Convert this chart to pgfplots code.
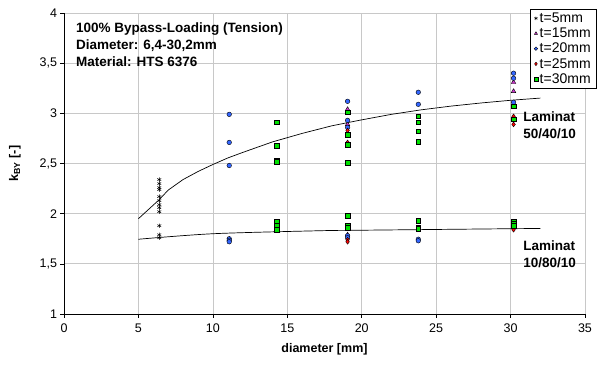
\documentclass[border=0pt]{standalone}
\usepackage{pgfplots}
\pgfplotsset{compat=1.18}
\usepackage{fontspec}
\setmainfont{Liberation Sans}
\definecolor{cblue}{HTML}{3366FF}
\definecolor{cmag}{HTML}{CC33CC}
\definecolor{cred}{HTML}{FF0000}
\definecolor{cgreen}{HTML}{00E000}
\definecolor{gridgray}{HTML}{C8C8C8}
\begin{document}
\begin{tikzpicture}
\begin{axis}[
  scale only axis,
  width=521bp, height=301bp,
  xmin=0, xmax=35, ymin=1, ymax=4,
  xtick={0,5,...,35}, ytick={1,1.5,...,4},
  axis lines*=left,
  grid=major,
  major grid style={gridgray, line width=0.7pt},
  axis line style={black, line width=0.8pt},
  tick style={black, line width=0.6pt},
  tick align=outside,
  major tick length=3.5bp,
  /pgf/number format/use comma,
  /pgf/number format/assume math mode=true,
  ticklabel style={font=\fontsize{12.5bp}{14bp}\selectfont},
  yticklabel style={/pgf/number format/fixed},
  xticklabel style={yshift=-3bp},
  xlabel={\textbf{diameter [mm]}},
  ylabel={\textbf{k\textsubscript{BY} [-]}},
  label style={font=\fontsize{12.5bp}{14bp}\selectfont},
  xlabel style={yshift=-4bp},
  ylabel style={yshift=12bp},
  clip=false,
  legend style={at={(1,1)}, anchor=north east, xshift=11.5bp, yshift=4bp,
    font=\fontsize{14bp}{15.5bp}\selectfont, draw=black, line width=0.6pt,
    inner xsep=3.5bp, inner ysep=1.5bp, row sep=0bp, cells={anchor=west},
    /tikz/every even column/.append style={column sep=6bp}},
  legend cell align=left,
  legend image code/.code={\draw[mark repeat=2,mark phase=2,#1,mark size=1.8bp] plot coordinates {(0cm,0cm) (0.1cm,0cm) (0.2cm,0cm)};},
]
% t=5mm
\addplot[only marks, mark=asterisk, mark size=2.2bp, draw=black, line width=0.5pt] coordinates {
(6.4,2.34) (6.4,2.30) (6.4,2.26) (6.4,2.24) (6.4,2.17) (6.4,2.13) (6.4,2.09) (6.4,2.06) (6.4,2.02) (6.4,1.88) (6.4,1.79) (6.4,1.76)};
\addlegendentry{t=5mm}
% t=15mm
\addplot[only marks, mark=triangle*, mark size=2.6bp, draw=black, fill=cmag, line width=0.4pt] coordinates {
(19.05,3.04) (19.05,2.89) (19.05,1.79) (30.2,3.31) (30.2,3.22)};
\addlegendentry{t=15mm}
% t=20mm
\addplot[only marks, mark=*, mark size=2.3bp, draw=black, fill=cblue, line width=0.4pt] coordinates {
(11.1,2.99) (11.1,2.71) (11.1,2.48) (11.1,1.75) (11.1,1.735) (11.1,1.72)
(19.05,3.12) (19.05,2.93) (19.05,2.86) (19.05,1.78) (19.05,1.76)
(23.8,3.21) (23.8,3.09) (23.8,1.745) (23.8,1.73)
(30.2,3.40) (30.2,3.35) (30.2,3.11)};
\addlegendentry{t=20mm}
% t=25mm
\addplot[only marks, mark=diamond*, mark size=2.4bp, draw=black, fill=cred, line width=0.4pt] coordinates {
(19.05,2.83) (19.05,2.71) (19.05,1.74) (19.05,1.72)
(30.2,2.97) (30.2,2.89) (30.2,1.84)};
\addlegendentry{t=25mm}
% t=30mm
\addplot[only marks, mark=square*, mark size=2.3bp, draw=black, fill=cgreen, line width=0.4pt] coordinates {
(14.3,2.91) (14.3,2.68) (14.3,2.53) (14.3,2.52) (14.3,1.92) (14.3,1.88) (14.3,1.84)
(19.05,3.01) (19.05,2.79) (19.05,2.685) (19.05,2.51) (19.05,1.98) (19.05,1.88) (19.05,1.86)
(23.8,2.97) (23.8,2.91) (23.8,2.82) (23.8,2.72) (23.8,1.93) (23.8,1.86) (23.8,1.85)
(30.2,3.07) (30.2,2.94) (30.2,1.92) (30.2,1.90) (30.2,1.88)};
\addlegendentry{t=30mm}
% trend lines
\addplot[black, line width=0.7pt, forget plot] coordinates {
(5,1.95) (6.4,2.14) (7,2.235) (8,2.34) (9,2.42) (10,2.49) (11,2.555) (12,2.61) (14,2.715) (16,2.80) (18,2.876) (20,2.935) (22,2.99) (24,3.035) (26,3.072) (28,3.103) (30,3.13) (32,3.152)};
\addplot[black, line width=0.7pt, smooth, forget plot] coordinates {
(5,1.745) (10,1.80) (17.2,1.83) (20,1.835) (30,1.85) (32,1.852)};
% texts
\node[anchor=north west, align=left, font=\fontsize{13.5bp}{17bp}\selectfont\bfseries, inner sep=0pt]
  at (axis cs:0.8,3.91) {100\% Bypass-Loading (Tension)\\Diameter: 6,4-30,2mm\\Material: HTS 6376};
\node[anchor=north west, align=left, font=\fontsize{13.5bp}{17bp}\selectfont\bfseries, inner sep=0pt]
  at (axis cs:30.85,3.02) {Laminat\\50/40/10};
\node[anchor=north west, align=left, font=\fontsize{13.5bp}{17bp}\selectfont\bfseries, inner sep=0pt]
  at (axis cs:30.85,1.73) {Laminat\\10/80/10};
\end{axis}
\path[use as bounding box] (current axis.south west) ++(-64bp,-53bp) rectangle ++(597bp,367bp);
\end{tikzpicture}
\end{document}
